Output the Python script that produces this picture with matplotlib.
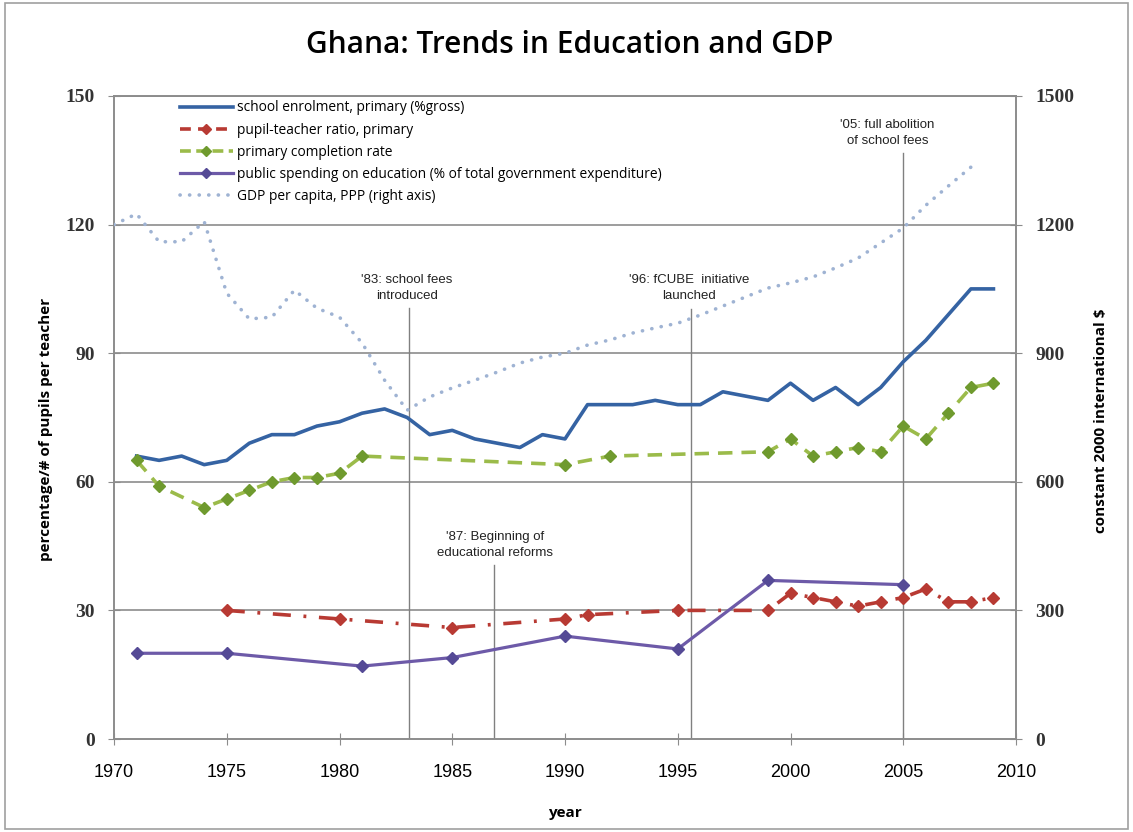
import matplotlib
matplotlib.use("Agg")
import matplotlib.pyplot as plt
from matplotlib import font_manager as fm
from matplotlib.patches import Rectangle
from matplotlib.lines import Line2D

names = {f.name for f in fm.fontManager.ttflist}
NARROW = 'Liberation Sans Narrow' if 'Liberation Sans Narrow' in names else 'Liberation Sans'
SANS = 'Open Sans' if 'Open Sans' in names else 'DejaVu Sans'
SERIF = 'Liberation Serif'

# ---------------- data ----------------
enrol_years = list(range(1971, 2010))
enrol_vals = [66, 65, 66, 64, 65, 69, 71, 71, 73, 74, 76, 77, 75, 71, 72, 70, 69, 68, 71, 70,
              78, 78, 78, 79, 78, 78, 81, 80, 79, 83, 79, 82, 78, 82, 88, 93, 99, 105, 105]

ptr_years = [1975, 1980, 1985, 1990, 1991, 1995, 1999, 2000, 2001, 2002, 2003, 2004, 2005, 2006, 2007, 2008, 2009]
ptr_vals = [30, 28, 26, 28, 29, 30, 30, 34, 33, 32, 31, 32, 33, 35, 32, 32, 33]

comp_years = [1971, 1972, 1974, 1975, 1976, 1977, 1978, 1979, 1980, 1981, 1990, 1992, 1999, 2000,
              2001, 2002, 2003, 2004, 2005, 2006, 2007, 2008, 2009]
comp_vals = [65, 59, 54, 56, 58, 60, 61, 61, 62, 66, 64, 66, 67, 70, 66, 67, 68, 67, 73, 70, 76, 82, 83]

spend_years = [1971, 1975, 1981, 1985, 1990, 1995, 1999, 2005]
spend_vals = [20, 20, 17, 19, 24, 21, 37, 36]

gdp_years = list(range(1970, 2009))
gdp_vals = [1200, 1225, 1160, 1160, 1207, 1040, 980, 984, 1047, 1005, 984, 924, 837, 767, 798,
            819, 837, 856, 877, 891, 900, 919, 931, 947, 959, 970, 989, 1010, 1031, 1052, 1064,
            1078, 1099, 1122, 1157, 1192, 1245, 1290, 1334]

event_years = [1983.1, 1986.85, 1995.6, 2005.0]
event_labels = ["'83: school fees\nintroduced", "'87: Beginning of\neducational reforms",
                "'96: fCUBE  initiative\nlaunched", "'05: full abolition\nof school fees"]
event_line_tops = [100.5, 40.6, 100.3, 136.7]
event_text_y = [105.3, 45.3, 105.2, 141.4]
event_text_x = [1983.0, 1986.9, 1995.5, 2004.3]

yticks_left = [0, 30, 60, 90, 120, 150]
yticks_right = [0, 300, 600, 900, 1200, 1500]
xticks = list(range(1970, 2011, 5))

# ---------------- figure ----------------
fig = plt.figure(figsize=(11.33, 8.32), dpi=100)
ax = fig.add_axes([114/1133, 1-739/832, (1016-114)/1133, (739-96)/832])
ax2 = ax.twinx()

c_enrol = '#3563a3'
c_ptr = '#b83a33'
c_comp_line = '#9bbb4a'
c_comp_mark = '#6f9a2e'
c_spend = '#6d5aa8'
c_spend_mark = '#554a96'
c_gdp = '#9fb3d3'
grid_c = '#8c8c8c'

ax.set_xlim(1970, 2010)
ax.set_ylim(0, 150)
ax2.set_ylim(0, 1500)

for y in yticks_left[1:]:
    ax.axhline(y, color=grid_c, lw=1.2, zorder=1)

# event lines and text
for ex, top, tx, ty, lab in zip(event_years, event_line_tops, event_text_x, event_text_y, event_labels):
    ax.plot([ex, ex], [0, top], color='#808080', lw=1.0, zorder=2)
    ax.text(tx, ty, lab, ha='center', va='center', fontsize=9.5, family=NARROW, color='#222222',
            linespacing=1.45, zorder=6,
            bbox=dict(facecolor='white', edgecolor='none', pad=1.5))

l1, = ax.plot(enrol_years, enrol_vals, color=c_enrol, lw=2.6, zorder=5,
              label='school enrolment, primary (%gross)')
l2, = ax.plot(ptr_years, ptr_vals, color=c_ptr, lw=2.6, ls=(0, (5, 3.5, 0.8, 3.5)), marker='D', ms=6,
              mfc=c_ptr, mec=c_ptr, zorder=5, label='pupil-teacher ratio, primary')
l3, = ax.plot(comp_years, comp_vals, color=c_comp_line, lw=2.6, ls=(0, (4, 2.5)), marker='D', ms=6,
              mfc=c_comp_mark, mec=c_comp_mark, zorder=5, label='primary completion rate')
l4, = ax.plot(spend_years, spend_vals, color=c_spend, lw=2.3, marker='D', ms=6,
              mfc=c_spend_mark, mec=c_spend_mark, zorder=5,
              label='public spending on education (% of total government expenditure)')
l5, = ax2.plot(gdp_years, gdp_vals, color=c_gdp, lw=2.6, ls=(0, (0.05, 2.6)), dash_capstyle='round',
               zorder=4, label='GDP per capita, PPP (right axis)')

# legend handles
h_ptr = Line2D([], [], color=c_ptr, lw=2.6, ls=(0, (3, 2)), marker='D', ms=5, mfc=c_ptr, mec=c_ptr)
h_comp = Line2D([], [], color=c_comp_line, lw=2.6, ls=(0, (3, 1.5)), marker='D', ms=5,
                mfc=c_comp_mark, mec=c_comp_mark)
h_spend = Line2D([], [], color=c_spend, lw=2.3, marker='D', ms=5, mfc=c_spend_mark, mec=c_spend_mark)
h_gdp = Line2D([], [], color=c_gdp, lw=2.6, ls=(0, (0.05, 2.6)), dash_capstyle='round')
leg = ax.legend([l1, h_ptr, h_comp, h_spend, h_gdp], [l.get_label() for l in [l1, l2, l3, l4, l5]],
                loc='upper left', bbox_to_anchor=(0.062, 1.008), frameon=False,
                handlelength=3.9, handletextpad=0.25, labelspacing=0.52, borderaxespad=0.3,
                prop={'family': SANS, 'size': 9.9})
leg.set_zorder(10)

# axes styling
for a in (ax, ax2):
    for s in a.spines.values():
        s.set_color(grid_c)
        s.set_linewidth(1.2)
ax.set_xticks(xticks)
ax.set_yticks(yticks_left)
ax2.set_yticks(yticks_right)
ax.tick_params(axis='x', direction='inout', length=8, color=grid_c, pad=14)
ax.tick_params(axis='y', direction='inout', length=8, color=grid_c, pad=10)
ax2.tick_params(axis='y', direction='inout', length=8, color=grid_c, pad=10)
for lab in ax.get_xticklabels():
    lab.set_family(NARROW)
    lab.set_fontsize(13)
for lab in ax.get_yticklabels() + ax2.get_yticklabels():
    lab.set_family(SERIF)
    lab.set_fontsize(14)
    lab.set_fontweight('bold')
    lab.set_color('#333333')

ax.set_xlabel('year', fontsize=11, fontweight='bold', family=SANS, labelpad=18)
ax.set_ylabel('percentage/# of pupils per teacher', fontsize=11, fontweight='bold', family=SANS)
ax.yaxis.set_label_coords(-0.068, 0.481)
ax2.set_ylabel('constant 2000 international $', fontsize=11, fontweight='bold', family=SANS)
ax2.yaxis.set_label_coords(1.087, 0.495)

fig.text(0.503, 0.946, 'Ghana: Trends in Education and GDP', ha='center', va='center',
         fontsize=21.5, fontweight='semibold', family=SANS)

fig.patches.append(Rectangle((0.004, 0.004), 0.992, 0.992, transform=fig.transFigure,
                             fill=False, edgecolor='#a0a0a0', lw=1.2))

fig.savefig('out.png', dpi=100)
